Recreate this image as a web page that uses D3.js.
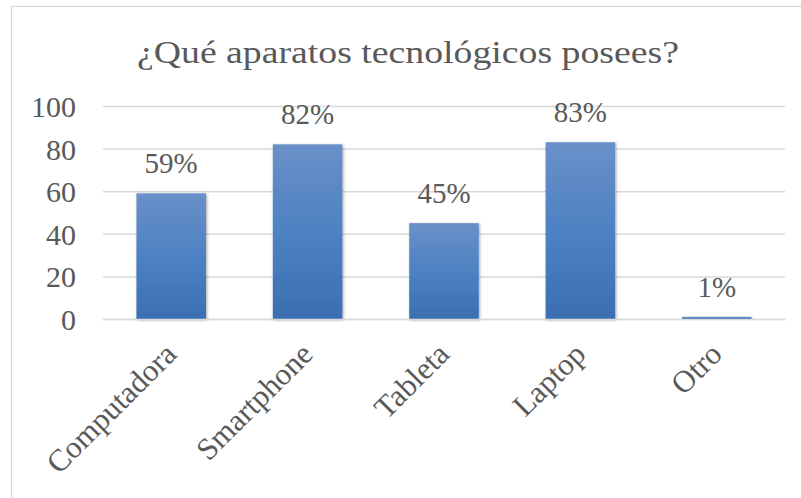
<!DOCTYPE html>
<html>
<head>
<meta charset="utf-8">
<script src="https://cdn.jsdelivr.net/npm/d3@7"></script>
<style>
  body { margin: 0; background: #fff; }
  svg text { font-family: "Liberation Serif", "Times New Roman", serif; fill: #595959; }
</style>
</head>
<body>
<svg></svg>
<script>
var categories = ["Computadora", "Smartphone", "Tableta", "Laptop", "Otro"];
var values = [59, 82, 45, 83, 1]; // porcentaje
var yTicks = [0, 20, 40, 60, 80, 100];
var title = "¿Qué aparatos tecnológicos posees?";

var width = 801, height = 498;
var plotLeft = 103, plotRight = 785, plotTop = 106, plotBottom = 319;

var svg = d3.select("svg").attr("width", width).attr("height", height);

// gradiente y sombra de las barras
var defs = svg.append("defs");
var grad = defs.append("linearGradient")
    .attr("id", "barGrad").attr("x1", 0).attr("y1", 0).attr("x2", 0).attr("y2", 1);
grad.append("stop").attr("offset", "0%").attr("stop-color", "#6a90c8");
grad.append("stop").attr("offset", "55%").attr("stop-color", "#4a80c2");
grad.append("stop").attr("offset", "100%").attr("stop-color", "#3b6fb2");
var shadow = defs.append("filter").attr("id", "shadow")
    .attr("x", "-20%").attr("y", "-20%").attr("width", "140%").attr("height", "140%");
shadow.append("feDropShadow").attr("dx", 1).attr("dy", 1).attr("stdDeviation", 1.5)
    .attr("flood-color", "#000").attr("flood-opacity", 0.35);

// marco
svg.append("rect")
    .attr("x", 11.5).attr("y", 6.5)
    .attr("width", 800).attr("height", 500)
    .attr("fill", "#fff").attr("stroke", "#d9d9d9").attr("stroke-width", 1.3);

// titulo
svg.append("text")
    .attr("x", 408).attr("y", 63)
    .attr("text-anchor", "middle")
    .attr("textLength", 542)
    .attr("lengthAdjust", "spacingAndGlyphs")
    .style("font-size", "32px")
    .text(title);

var xScale = d3.scaleBand()
    .domain(categories)
    .range([plotLeft, plotRight])
    .paddingInner(0.49).paddingOuter(0.245);

var yScale = d3.scaleLinear()
    .domain([0, 100])
    .range([plotBottom, plotTop]);

// lineas de cuadricula
svg.append("g")
    .attr("transform", "translate(" + plotLeft + ",0)")
    .call(d3.axisLeft(yScale).tickValues(yTicks).tickSize(-(plotRight - plotLeft)).tickFormat(""))
    .call(g => g.select(".domain").remove())
    .call(g => g.selectAll("line").attr("stroke", "#d9d9d9").attr("stroke-width", 1.5));

// etiquetas eje y
svg.append("g")
    .attr("transform", "translate(" + 76 + ",0)")
    .call(d3.axisLeft(yScale).tickValues(yTicks).tickSize(0).tickPadding(0))
    .call(g => g.select(".domain").remove())
    .call(g => g.selectAll("text")
        .style("font-size", "30px")
        .attr("dy", "0.35em")
        .attr("fill", "#595959"));

// barras
svg.append("g")
    .selectAll("rect")
    .data(values)
    .enter()
    .append("rect")
    .attr("x", (d, i) => xScale(categories[i]))
    .attr("y", d => yScale(d))
    .attr("width", xScale.bandwidth())
    .attr("height", d => plotBottom - yScale(d))
    .attr("fill", "url(#barGrad)")
    .attr("filter", "url(#shadow)");

// eje x
svg.append("g")
    .attr("transform", "translate(0," + plotBottom + ")")
    .call(d3.axisBottom(xScale).tickSize(0).tickFormat(""))
    .call(g => g.select(".domain").attr("stroke", "#d9d9d9").attr("stroke-width", 1.5));

// etiquetas de datos
svg.append("g")
    .selectAll("text")
    .data(values)
    .enter()
    .append("text")
    .attr("x", (d, i) => xScale(categories[i]) + xScale.bandwidth() / 2)
    .attr("y", d => yScale(d) - 20)
    .attr("text-anchor", "middle")
    .style("font-size", "29px")
    .text(d => d + "%");

// categorias rotadas
svg.append("g")
    .selectAll("text")
    .data(categories)
    .enter()
    .append("text")
    .attr("transform", d => "translate(" + (xScale(d) + xScale.bandwidth() / 2 + 7) + "," + (plotBottom + 37) + ") rotate(-45)")
    .attr("text-anchor", "end")
    .style("font-size", "31px")
    .text(d => d);
</script>
</body>
</html>
